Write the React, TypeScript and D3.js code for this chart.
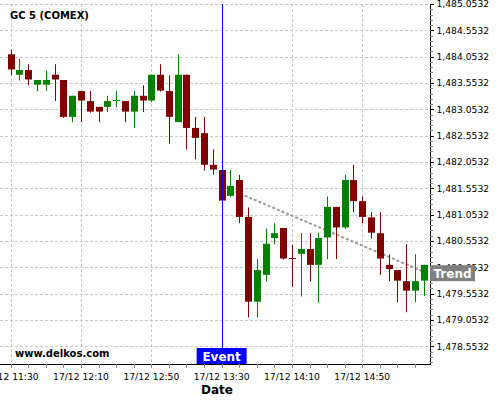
import React from "react";
import * as d3 from "d3";

const title = "GC 5 (COMEX)";
const watermark = "www.delkos.com";
const opens = [1484.10,1483.71,1483.80,1483.52,1483.52,1483.71,1483.61,1482.91,1483.40,1483.21,1483.10,1483.10,1483.23,1483.21,1483.01,1483.31,1483.22,1483.71,1483.40,1482.81,1483.71,1482.70,1482.60,1482.00,1481.90,1481.41,1481.71,1481.01,1479.40,1479.91,1480.61,1480.80,1480.23,1480.31,1480.40,1480.10,1480.62,1481.20,1480.81,1481.71,1481.31,1481.00,1480.70,1480.10,1480.00,1479.79,1479.61,1479.80];
const highs = [1484.19,1484.01,1483.91,1483.61,1483.79,1483.91,1483.61,1483.31,1483.40,1483.40,1483.10,1483.31,1483.40,1483.21,1483.40,1483.51,1483.71,1483.91,1483.70,1484.10,1483.71,1482.91,1482.91,1482.29,1481.93,1481.90,1481.81,1481.19,1480.21,1480.79,1480.89,1480.80,1480.48,1480.70,1480.70,1480.71,1481.40,1481.20,1481.81,1482.00,1481.40,1481.10,1481.10,1480.30,1480.00,1480.49,1480.30,1480.10];
const lows = [1483.70,1483.60,1483.51,1483.40,1483.40,1483.21,1482.89,1482.81,1482.81,1482.99,1482.81,1483.00,1483.09,1482.81,1482.70,1483.00,1483.19,1483.39,1482.40,1482.81,1482.29,1482.10,1481.89,1481.81,1481.29,1481.39,1480.89,1479.10,1479.10,1479.78,1480.49,1480.20,1479.68,1479.50,1479.78,1479.38,1480.21,1480.21,1480.78,1481.10,1480.89,1480.60,1479.91,1479.79,1479.39,1479.20,1479.39,1479.51];
const closes = [1483.81,1483.80,1483.62,1483.61,1483.61,1483.62,1482.91,1483.31,1483.22,1483.01,1483.01,1483.21,1483.23,1483.01,1483.31,1483.22,1483.71,1483.41,1482.91,1483.71,1482.70,1482.51,1482.00,1481.91,1481.32,1481.60,1481.01,1479.40,1480.00,1480.50,1480.70,1480.22,1480.22,1480.40,1480.10,1480.61,1481.20,1480.81,1481.71,1481.31,1481.01,1480.71,1480.22,1480.02,1479.80,1479.61,1479.79,1480.10];

const startTime = new Date(2020, 11, 17, 11, 30);
const times = opens.map((_, i) => d3.timeMinute.offset(startTime, 5 * i));
const eventTime = new Date(2020, 11, 17, 13, 30);
const trendTimes = [new Date(2020, 11, 17, 13, 30), new Date(2020, 11, 17, 15, 25)];
const trendValues = [1481.60, 1479.97];
const yMajorTicks = [1485.0532, 1484.5532, 1484.0532, 1483.5532, 1483.0532, 1482.5532, 1482.0532, 1481.5532, 1481.0532, 1480.5532, 1480.0532, 1479.5532, 1479.0532, 1478.5532];
const yDomain = [1478.217, 1485.0532];
const xLabelTimes = ["11:30", "12:10", "12:50", "13:30", "14:10", "14:50"];

const W = 500, H = 400;
const top = 4, bottom = 364, left = 0, right = 430;
const FONT = "DejaVu Sans, sans-serif";
const RED = "#800000", GREEN = "#008000";

export default function App() {
  const x = d3.scaleTime().domain([times[0], times[times.length - 1]]).range([10.7, 423.8]);
  const y = d3.scaleLinear().domain(yDomain).range([bottom, top]);
  const fmtY = d3.format(",.4f");
  const fmtX = d3.timeFormat("%d/%m %H:%M");

  const minorY = d3.range(0, 80).map(k => yMajorTicks[0] - 0.1 * k).filter(v => v >= yDomain[0]);
  const xTicks = d3.timeMinute.every(10)!.range(d3.timeMinute.offset(startTime, -10), d3.timeMinute.offset(times[times.length - 1], 10))
    .filter(t => x(t) >= left && x(t) <= right);
  const majorX = xLabelTimes.map(s => {
    const [h, m] = s.split(":").map(Number);
    return new Date(2020, 11, 17, h, m);
  });

  const ex = x(eventTime);
  const tx0 = x(trendTimes[0]), ty0 = y(trendValues[0]);
  const tx1 = x(trendTimes[1]), ty1 = y(trendValues[1]);
  const bw = 7;

  return (
    <svg width={W} height={H} style={{ position: "absolute", left: 0, top: 0, background: "#fff" }} fontFamily={FONT}>
      <rect x={0} y={0} width={W} height={H} fill="#fff" />
      {/* grid */}
      {yMajorTicks.map((v, i) => (
        <line key={"gy" + i} x1={left} x2={right} y1={Math.round(y(v)) + 0.5} y2={Math.round(y(v)) + 0.5} stroke="#c8c8c8" strokeDasharray="3,2" />
      ))}
      {majorX.map((t, i) => (
        <line key={"gx" + i} x1={Math.round(x(t)) + 0.5} x2={Math.round(x(t)) + 0.5} y1={top} y2={bottom} stroke="#c8c8c8" strokeDasharray="3,2" />
      ))}
      {/* trend */}
      <line x1={tx0} y1={ty0} x2={tx1} y2={ty1} stroke="#999" strokeWidth={2} strokeDasharray="3,2" />
      {/* candles */}
      {opens.map((o, i) => {
        const c = closes[i];
        const col = c >= o ? GREEN : RED;
        const cx = Math.round(x(times[i]));
        const yt = y(Math.max(o, c)), yb = y(Math.min(o, c));
        return (
          <g key={"c" + i}>
            <line x1={cx + 0.5} x2={cx + 0.5} y1={y(highs[i])} y2={y(lows[i])} stroke={col} strokeWidth={1} />
            <rect x={cx - 3} y={yt} width={bw} height={Math.max(1, yb - yt)} fill={col} />
          </g>
        );
      })}
      {/* event line */}
      <line x1={Math.round(ex) + 0.5} x2={Math.round(ex) + 0.5} y1={top} y2={bottom} stroke="#0000ff" strokeWidth={1} />
      {/* axes */}
      <line x1={right + 0.5} x2={right + 0.5} y1={top} y2={bottom + 0.5} stroke="#000" />
      <line x1={left} x2={right + 1} y1={bottom + 0.5} y2={bottom + 0.5} stroke="#000" />
      {minorY.map((v, i) => (
        <line key={"my" + i} x1={right} x2={right + 3} y1={Math.round(y(v)) + 0.5} y2={Math.round(y(v)) + 0.5} stroke="#888" />
      ))}
      {yMajorTicks.map((v, i) => (
        <g key={"ty" + i}>
          <line x1={right} x2={right + 4} y1={Math.round(y(v)) + 0.5} y2={Math.round(y(v)) + 0.5} stroke="#000" />
          <text x={436.5} y={y(v)} dy="0.35em" fontSize={9.2} fill="#000">{fmtY(v)}</text>
        </g>
      ))}
      {xTicks.map((t, i) => (
        <line key={"tx" + i} x1={Math.round(x(t)) + 0.5} x2={Math.round(x(t)) + 0.5} y1={bottom} y2={bottom + 4} stroke="#888" />
      ))}
      {majorX.map((t, i) => (
        <text key={"lx" + i} x={x(t)} y={380} textAnchor="middle" fontSize={9.2} fill="#000">{fmtX(t)}</text>
      ))}
      <text x={(left + right) / 2 + 2} y={393.5} textAnchor="middle" fontSize={12} fontWeight="bold" fill="#000">Date</text>
      {/* title & watermark */}
      <text x={10} y={19.3} fontSize={10} fontWeight="bold" fill="#000">{title}</text>
      <text x={15} y={357} fontSize={10} fontWeight="bold" fill="#000">{watermark}</text>
      {/* event label */}
      <rect x={ex - 25} y={348} width={50} height={16} fill="#0000ff" />
      <text x={ex} y={360.5} textAnchor="middle" fontSize={12} fontWeight="bold" fill="#fff">Event</text>
      {/* trend label */}
      <rect x={430} y={ty1 - 6.5} width={45} height={16} fill="#808080" />
      <text x={452.5} y={ty1 + 6} textAnchor="middle" fontSize={12} fontWeight="bold" fill="#fff">Trend</text>
    </svg>
  );
}
